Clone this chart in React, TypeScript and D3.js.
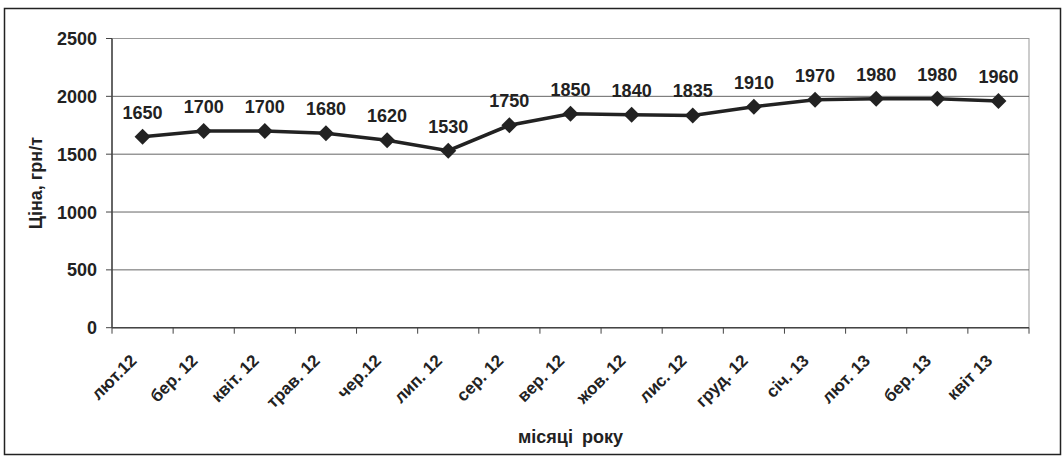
import React from "react";
import * as d3 from "d3";

const categories = ["лют.12", "бер. 12", "квіт. 12", "трав. 12", "чер.12", "лип. 12", "сер. 12", "вер. 12", "жов. 12", "лис. 12", "груд. 12", "січ. 13", "лют. 13", "бер. 13", "квіт 13"];
const prices = [1650, 1700, 1700, 1680, 1620, 1530, 1750, 1850, 1840, 1835, 1910, 1970, 1980, 1980, 1960];
const yTicks = [0, 500, 1000, 1500, 2000, 2500];
const yTitle = "Ціна, грн/т";
const xTitle = "місяці року";

export default function App() {
  const W = 1063, H = 461;
  const left = 112, right = 1029, top = 38.5, bottom = 327.7;
  const x = d3.scaleBand<string>().domain(categories).range([left, right]).padding(0);
  const y = d3.scaleLinear().domain([0, 2500]).range([bottom, top]);
  const cx = (c: string) => (x(c) as number) + x.bandwidth() / 2;
  const line = d3.line<number>().x((_, i) => cx(categories[i])).y((d) => y(d));
  const font = "'Liberation Sans', Arial, sans-serif";
  const boundaries = categories.map((c) => x(c) as number).concat([right]);
  const ink = "#222";
  return (
    <svg width={W} height={H} style={{ position: "absolute", left: 0, top: 0 }} fontFamily={font}>
      <rect x={0} y={0} width={W} height={H} fill="#fff" />
      <rect x={4.5} y={8.5} width={1056} height={446} fill="none" stroke={ink} strokeWidth={1.5} />
      <rect x={left} y={top} width={right - left} height={bottom - top} fill="none" stroke="#999" strokeWidth={1} />
      {yTicks.map((t) => (
        <g key={t}>
          {t > 0 && t < 2500 && <line x1={left} x2={right} y1={y(t)} y2={y(t)} stroke="#666" strokeWidth={1} />}
          <line x1={left - 6} x2={left} y1={y(t)} y2={y(t)} stroke="#444" strokeWidth={1} />
          <text x={97} y={y(t)} dy="0.36em" textAnchor="end" fontSize={18} fontWeight="bold" fill={ink}>{t}</text>
        </g>
      ))}
      <line x1={left} x2={left} y1={top} y2={bottom} stroke="#444" strokeWidth={1.5} />
      <line x1={left} x2={right} y1={bottom} y2={bottom} stroke="#444" strokeWidth={1.5} />
      {boundaries.map((b, i) => (
        <line key={i} x1={b} x2={b} y1={bottom} y2={bottom + 6} stroke="#444" strokeWidth={1} />
      ))}
      {categories.map((c) => (
        <text key={c} transform={`translate(${cx(c) - 5},${bottom + 34}) rotate(-45)`} textAnchor="end" fontSize={17} fontWeight="bold" fill={ink}>{c}</text>
      ))}
      <path d={line(prices) || ""} fill="none" stroke={ink} strokeWidth={3.5} />
      {prices.map((p, i) => {
        const px = cx(categories[i]), py = y(p);
        return (
          <g key={i}>
            <path d={`M${px},${py - 8}L${px + 8},${py}L${px},${py + 8}L${px - 8},${py}Z`} fill={ink} />
            <text x={px} y={py - 18} textAnchor="middle" fontSize={18} fontWeight="bold" fill={ink}>{p}</text>
          </g>
        );
      })}
      <text transform={`translate(42,${(top + bottom) / 2}) rotate(-90)`} textAnchor="middle" fontSize={18} fontWeight="bold" fill={ink}>{yTitle}</text>
      <text x={(left + right) / 2} y={443} textAnchor="middle" fontSize={18} fontWeight="bold" fill={ink} wordSpacing={4}>{xTitle}</text>
    </svg>
  );
}
